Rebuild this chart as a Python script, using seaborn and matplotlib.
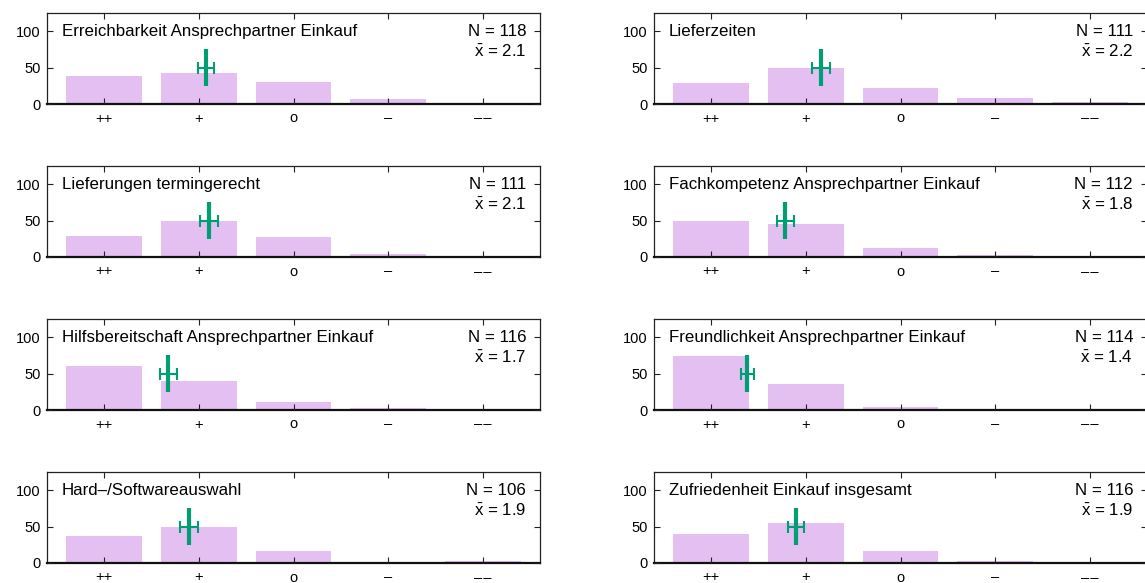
import numpy as np
import pandas as pd
import matplotlib
matplotlib.use("Agg")
import matplotlib.pyplot as plt
import seaborn as sns

# ---- data (counts per answer category) ----
categories = ["++", "+", "o", "\u2013", "\u2013\u200a\u2013"]

titles = [
    "Erreichbarkeit Ansprechpartner Einkauf",
    "Lieferzeiten",
    "Lieferungen termingerecht",
    "Fachkompetenz Ansprechpartner Einkauf",
    "Hilfsbereitschaft Ansprechpartner Einkauf",
    "Freundlichkeit Ansprechpartner Einkauf",
    "Hard\u2013/Softwareauswahl",
    "Zufriedenheit Einkauf insgesamt",
]

erreichbarkeit = [38, 42, 30, 7, 1]
lieferzeiten = [29, 49, 22, 8, 3]
termingerecht = [29, 49, 27, 4, 2]
fachkompetenz = [49, 45, 13, 3, 2]
hilfsbereitschaft = [60, 40, 11, 3, 2]
freundlichkeit = [74, 36, 4, 0, 0]
hardsoftware = [37, 49, 17, 0, 3]
zufriedenheit = [40, 55, 16, 3, 2]

n_labels = [118, 111, 111, 112, 116, 114, 106, 116]
mean_labels = ["2.1", "2.2", "2.1", "1.8", "1.7", "1.4", "1.9", "1.9"]
# half-width of the horizontal error bar (in answer-scale units)
err_halfwidth = [0.086, 0.096, 0.095, 0.092, 0.088, 0.065, 0.095, 0.084]

series = [erreichbarkeit, lieferzeiten, termingerecht, fachkompetenz,
          hilfsbereitschaft, freundlichkeit, hardsoftware, zufriedenheit]

# ---- style ----
sns.set_theme(style="ticks")
plt.rcParams["font.family"] = ["Liberation Sans", "DejaVu Sans"]
plt.rcParams["mathtext.fontset"] = "custom"
plt.rcParams["mathtext.rm"] = "Liberation Sans"
plt.rcParams["mathtext.it"] = "Liberation Sans:italic"

BAR = "#e3bff2"
GREEN = "#009e73"
FS_TICK = 10.5
FS_TEXT = 12.2

W, H = 1145, 583
fig = plt.figure(figsize=(W / 100, H / 100), dpi=100)

col_left = [47, 654]
ax_w = 493
row_top = [13, 166, 319, 472]
ax_h = 91

for i, (vals, title) in enumerate(zip(series, titles)):
    r, c = divmod(i, 2)
    left = col_left[c] / W
    bottom = 1 - (row_top[r] + ax_h) / H
    ax = fig.add_axes([left, bottom, ax_w / W, ax_h / H])

    df = pd.DataFrame({"cat": categories, "n": vals})
    sns.barplot(data=df, x="cat", y="n", order=categories, color=BAR,
                saturation=1, width=0.8, ax=ax, edgecolor="none", zorder=1)

    v = np.array(vals, dtype=float)
    scores = np.arange(1, 6)
    mean = (v * scores).sum() / v.sum()
    pos = mean - 1

    ax.vlines(pos, 25, 75, color=GREEN, lw=3.0, zorder=4)
    ax.errorbar([pos], [50], xerr=[err_halfwidth[i]], fmt="none", ecolor=GREEN,
                elinewidth=1.5, capsize=4.2, capthick=1.5, zorder=4)

    ax.set_xlim(-0.6, 4.6)
    ax.set_ylim(0, 125)
    ax.set_yticks([0, 50, 100])
    ax.set_xlabel("")
    ax.set_ylabel("")
    ax.set_axisbelow(False)

    for s in ["left", "right", "top"]:
        ax.spines[s].set_visible(True)
        ax.spines[s].set_linewidth(0.9)
        ax.spines[s].set_color("#222222")
    ax.spines["bottom"].set_linewidth(1.6)
    ax.spines["bottom"].set_color("#111111")

    ax.tick_params(axis="both", which="both", direction="in", length=4,
                   width=0.8, color="#222222", labelsize=FS_TICK,
                   top=True, right=True, labelcolor="black")
    ax.tick_params(axis="x", pad=5.4)
    ax.tick_params(axis="y", pad=4.8)

    ax.text(15 / ax_w, 0.8, title, transform=ax.transAxes, ha="left",
            va="center", fontsize=FS_TEXT, color="black")
    ax.text(1 - 14 / ax_w, 0.8, f"N = {n_labels[i]}", transform=ax.transAxes,
            ha="right", va="center", fontsize=FS_TEXT, color="black")
    ax.text(1 - 14 / ax_w, 0.575, r"$\bar{\mathrm{x}}$" + f" = {mean_labels[i]}",
            transform=ax.transAxes, ha="right", va="center", fontsize=FS_TEXT,
            color="black")

fig.savefig("out.png", dpi=100)
